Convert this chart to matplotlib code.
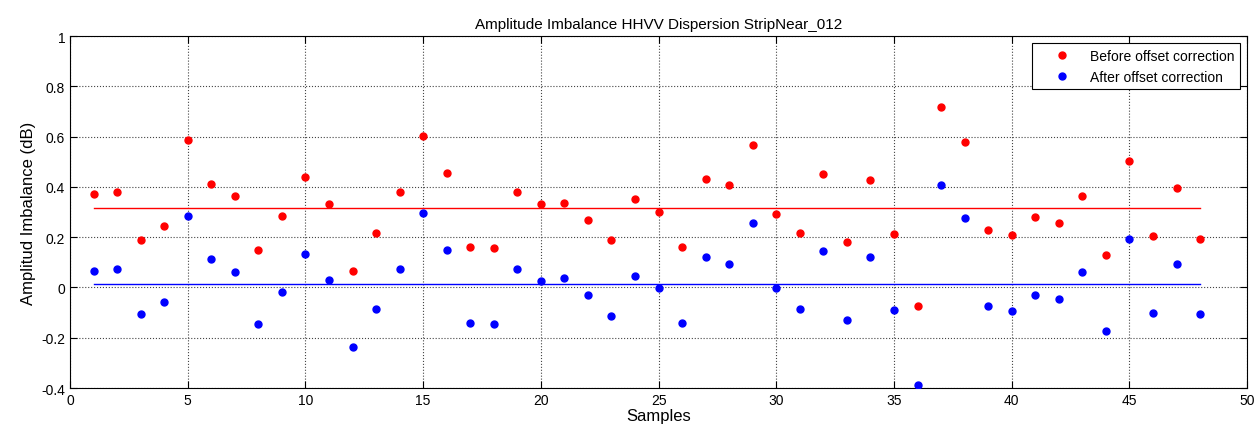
import matplotlib
matplotlib.use("Agg")
import matplotlib.pyplot as plt
from matplotlib.ticker import FuncFormatter

samples = list(range(1, 49))

before_offset = [0.371, 0.379, 0.189, 0.245, 0.585, 0.413, 0.362, 0.151, 0.283, 0.438,
                 0.331, 0.065, 0.216, 0.379, 0.601, 0.456, 0.159, 0.155, 0.379, 0.331,
                 0.336, 0.270, 0.189, 0.350, 0.301, 0.159, 0.430, 0.408, 0.567, 0.293,
                 0.215, 0.452, 0.181, 0.426, 0.211, -0.073, 0.718, 0.580, 0.228, 0.207,
                 0.279, 0.258, 0.362, 0.128, 0.503, 0.203, 0.396, 0.191]

after_offset = [0.065, 0.074, -0.107, -0.056, 0.283, 0.113, 0.061, -0.146, -0.017, 0.134,
                0.030, -0.236, -0.086, 0.074, 0.297, 0.151, -0.142, -0.146, 0.074, 0.025,
                0.036, -0.029, -0.115, 0.044, -0.004, -0.142, 0.121, 0.095, 0.258, -0.004,
                -0.086, 0.147, -0.128, 0.121, -0.090, -0.387, 0.408, 0.275, -0.073, -0.094,
                -0.029, -0.046, 0.061, -0.172, 0.193, -0.102, 0.095, -0.106]

before_mean = 0.318
after_mean = 0.013

plt.rcParams['font.family'] = ['Liberation Sans', 'DejaVu Sans']
plt.rcParams['axes.unicode_minus'] = False

fig = plt.figure(figsize=(12.59, 4.31), dpi=100)
ax = fig.add_axes([0.0556, 0.0974, 0.935, 0.8166])

ax.plot(samples, before_offset, 'o', color='#ff0000', markersize=5,
        label='Before offset correction', zorder=3)
ax.plot(samples, after_offset, 'o', color='#0000ff', markersize=5,
        label='After offset correction', zorder=3)
ax.plot([samples[0], samples[-1]], [before_mean, before_mean], color='#ff0000', linewidth=1)
ax.plot([samples[0], samples[-1]], [after_mean, after_mean], color='#0000ff', linewidth=1)

ax.set_xlim(0, 50)
ax.set_ylim(-0.4, 1)
ax.set_xticks(range(0, 51, 5))
ax.set_yticks([-0.4, -0.2, 0, 0.2, 0.4, 0.6, 0.8, 1])
ax.yaxis.set_major_formatter(FuncFormatter(lambda v, p: '%g' % round(v, 2)))
ax.tick_params(direction='in', top=True, right=True, labelsize=10, length=5)
ax.grid(True, linestyle=':', color='#444444', linewidth=0.8)
for s in ax.spines.values():
    s.set_linewidth(0.8)

ax.set_title('Amplitude Imbalance HHVV Dispersion StripNear_012', fontsize=11)
ax.set_xlabel('Samples', fontsize=12, labelpad=1)
ax.set_ylabel('Amplitud Imbalance (dB)', fontsize=12)

leg = ax.legend(loc='upper right', fancybox=False, edgecolor='black', framealpha=1,
                fontsize=10, borderaxespad=0.5, handlelength=3.6, handletextpad=0.2,
                borderpad=0.4)
leg.get_frame().set_linewidth(0.8)

fig.savefig('out.png', dpi=100)
